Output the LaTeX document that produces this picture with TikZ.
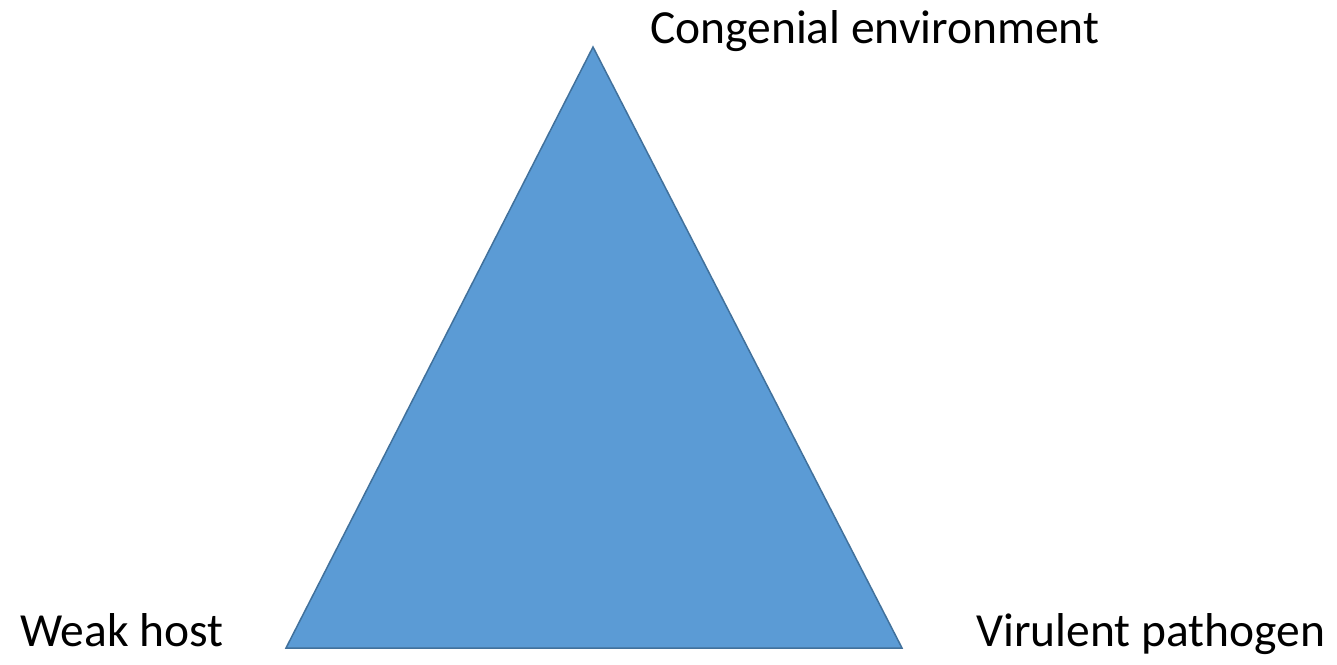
\documentclass[tikz,border=0pt]{standalone}
\usepackage{fontspec}
\setmainfont{Carlito}
\definecolor{trifill}{HTML}{5B9BD5}
\definecolor{triline}{HTML}{41719C}
\begin{document}
\begin{tikzpicture}[x=1pt,y=-1pt,
  lbl/.style={inner sep=0pt, anchor=base west, font=\fontsize{47.5}{52}\selectfont}]
\useasboundingbox (0,0) rectangle (1337,664);
\coordinate (apex) at (593,47);
\coordinate (bl) at (286,648);
\coordinate (br) at (902,648);
\fill[trifill,draw=triline,line width=1.5pt,line join=miter] (apex) -- (br) -- (bl) -- cycle;
\node[lbl] (env) at (650,43) {Congenial environment};
\node[lbl] (host) at (20,646) {Weak host};
\node[lbl] (path) at (976,646) {Virulent pathogen};
\end{tikzpicture}
\end{document}
